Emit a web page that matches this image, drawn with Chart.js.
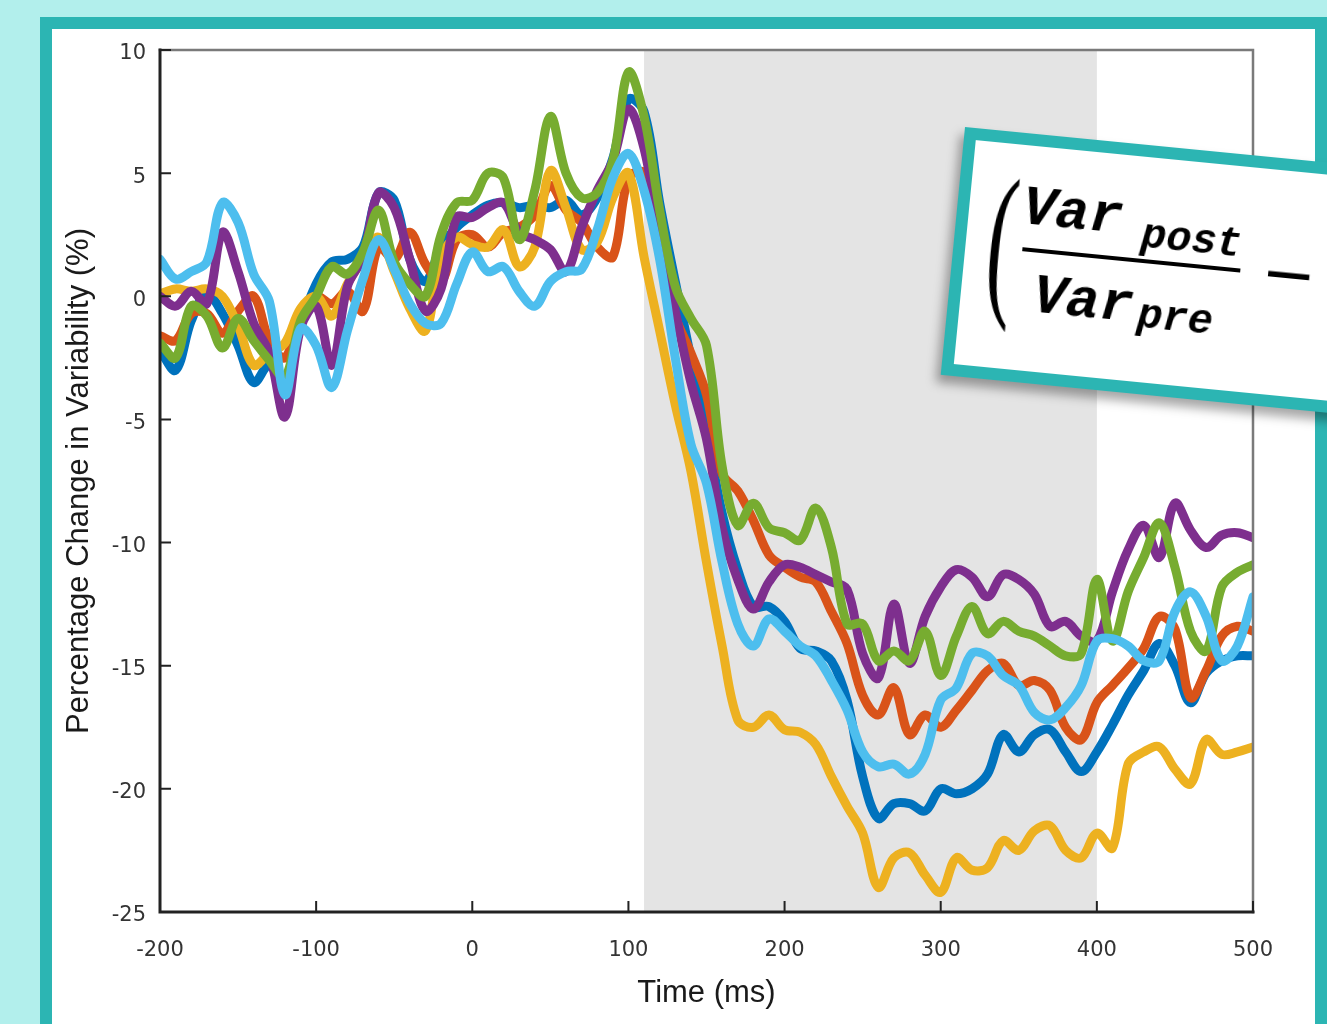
<!DOCTYPE html>
<html>
<head>
<meta charset="utf-8">
<title>Percentage Change in Variability</title>
<script src="https://cdn.jsdelivr.net/npm/chart.js@4.4.1/dist/chart.umd.min.js"></script>
<style>
  html, body { margin: 0; padding: 0; }
  body { width: 1327px; height: 1024px; overflow: hidden; background: #b2efec; position: relative; }
  #frame { position: absolute; left: 40px; top: 17px; width: 1263px; height: 1100px; border: 12px solid #2cb5b3; background: #fff; }
  #wrap { position: absolute; left: 0; top: 0; width: 1327px; height: 1024px; }
  #formula { position: absolute; left: 965px; top: 127px; width: 520px; height: 225px; border: 12px solid #2cb5b3; background: #fff;
             transform-origin: 0 0; transform: rotate(5.6deg); box-shadow: -4px 8px 10px rgba(0,0,0,0.35); }
  #formula span { position: absolute; line-height: 1; color: #000; white-space: nowrap; }
  .paren { font-family: "Liberation Serif", serif; font-size: 170px; left: 22px; top: 10px; transform-origin: 0 0; transform: scaleX(0.5); }
  .big { font-family: "Liberation Mono", monospace; font-style: italic; font-weight: bold; font-size: 56px; }
  .sub { font-family: "Liberation Mono", monospace; font-style: italic; font-weight: bold; font-size: 42px; }
  .bar { position: absolute; left: 57px; top: 102px; width: 219px; height: 4px; background: #000; }
  .minus { font-family: "DejaVu Sans", sans-serif; font-size: 66px; }
</style>
</head>
<body>
<div id="frame"></div>
<div id="wrap"><canvas id="chart" width="1327" height="1024"></canvas></div>
<div id="formula">
  <span class="paren">(</span>
  <span class="big" style="left:53px; top:35px;">Var</span>
  <span class="sub" style="left:174px; top:58px;">post</span>
  <div class="bar"></div>
  <span class="minus" style="left:297px; top:70px;">−</span>
  <span class="big" style="left:72px; top:122px;">Var</span>
  <span class="sub" style="left:178px; top:138px;">pre</span>
</div>
<script>
// time axis (ms), one sample every 10 ms
const times = [
  -200, -190, -180, -170, -160, -150, -140, -130, -120, -110,
  -100, -90, -80, -70, -60, -50, -40, -30, -20, -10,
  0, 10, 20, 30, 40, 50, 60, 70, 80, 90,
  100, 110, 120, 130, 140, 150, 160, 170, 180, 190,
  200, 210, 220, 230, 240, 250, 260, 270, 280, 290,
  300, 310, 320, 330, 340, 350, 360, 370, 380, 390,
  400, 410, 420, 430, 440, 450, 460, 470, 480, 490,
  500
];

const blue = [
  -2.2, -3.0, -1.0, 0.1, -0.7, -2.0, -3.5, -2.8, -3.8, -1.2,
  0.5, 1.4, 1.5, 2.0, 4.2, 3.9, 1.5, 0.6, 2.0, 2.8,
  3.3, 3.7, 3.8, 3.6, 3.7, 3.6, 3.9, 3.3, 4.0, 5.6,
  8.0, 7.5, 3.8, 0.6, -2.5, -5.5, -8.8, -11.1, -12.6, -12.6,
  -13.2, -14.3, -14.4, -14.8, -16.4, -19.5, -21.2, -20.6, -20.6, -20.9,
  -20.0, -20.2, -20.0, -19.4, -17.8, -18.5, -17.8, -17.6, -18.5, -19.3,
  -18.5, -17.4, -16.2, -15.2, -14.1, -15.0, -16.5, -15.3, -14.8, -14.6,
  -14.6
];

const orange = [
  -1.6, -1.8, -0.7, -0.7, -1.5, -0.6, 0.0, -1.8, -2.5, -0.8,
  0.0, -0.3, 0.2, -0.6, 2.0, 1.5, 2.6, 1.3, 0.6, 2.3,
  2.5, 2.0, 2.6, 2.8, 3.3, 4.5, 3.5, 3.0, 2.0, 1.6,
  4.8, 5.0, 2.0, -0.8, -2.3, -4.0, -7.2, -7.9, -9.1, -10.5,
  -11.0, -11.4, -11.6, -12.8, -14.1, -16.2, -17.0, -15.9, -17.8, -17.0,
  -17.5, -16.8, -16.0, -15.2, -14.9, -15.8, -15.6, -16.0, -17.5, -18.0,
  -16.5, -15.8, -15.1, -14.3, -13.0, -13.5, -16.3, -15.2, -13.8, -13.4,
  -13.6
];

const yellow = [
  0.1, 0.3, 0.2, 0.3, 0.0, -1.2, -2.8, -2.3, -1.9, -0.5,
  0.0, -0.8, 0.5, 1.5, 2.4, 1.0, -0.5, -1.4, 1.6, 2.4,
  2.1, 2.0, 2.7, 1.2, 2.0, 5.1, 3.6, 1.9, 2.2, 4.0,
  5.0, 1.6, -1.4, -4.4, -7.1, -10.8, -14.2, -17.2, -17.5, -17.0,
  -17.6, -17.7, -18.2, -19.5, -20.7, -21.8, -24.0, -22.8, -22.6, -23.5,
  -24.2, -22.8, -23.3, -23.2, -22.1, -22.5, -21.7, -21.5, -22.5, -22.8,
  -21.8, -22.4, -19.0, -18.5, -18.3, -19.2, -19.8, -18.0, -18.6, -18.5,
  -18.3
];

const purple = [
  0.0, -0.4, 0.2, -0.3, 2.6, 1.0, -1.1, -2.3, -4.9, -1.3,
  -0.4, -2.8, 0.4, 1.6, 4.2, 3.6, 1.5, -0.6, 0.3, 3.2,
  3.2, 3.6, 3.8, 2.6, 2.3, 1.9, 1.0, 2.8, 4.3, 5.5,
  7.6, 6.0, 2.5, -0.6, -3.5, -5.8, -9.4, -11.5, -12.7, -11.6,
  -10.9, -11.0, -11.3, -11.6, -11.9, -14.5, -15.5, -12.5, -14.9, -13.0,
  -11.8, -11.1, -11.4, -12.2, -11.3, -11.5, -12.1, -13.4, -13.2, -13.8,
  -14.0, -12.0, -10.3, -9.3, -10.6, -8.4, -9.5, -10.2, -9.7, -9.6,
  -9.8
];

const green = [
  -1.9, -2.5, -0.4, -0.8, -2.1, -0.9, -1.8, -2.6, -3.3, -1.0,
  0.0, 1.2, 0.9, 1.8, 3.5, 1.4, 0.5, 0.0, 2.5, 3.8,
  3.9, 5.0, 4.8, 2.3, 4.3, 7.3, 5.0, 4.0, 4.2, 5.5,
  9.1, 7.3, 3.5, 0.4, -0.9, -2.0, -6.9, -9.3, -8.4, -9.4,
  -9.6, -9.9, -8.6, -10.2, -13.3, -13.3, -14.8, -14.4, -14.8, -13.6,
  -15.4, -13.8, -12.6, -13.7, -13.2, -13.6, -13.8, -14.2, -14.6, -14.5,
  -11.5, -14.0, -12.0, -10.6, -9.2, -11.0, -13.6, -14.4, -11.8, -11.2,
  -10.9
];

const lightBlue = [
  1.5, 0.7, 1.0, 1.4, 3.8, 3.0, 0.9, -0.2, -4.0, -1.3,
  -2.0, -3.7, -1.4, 0.7, 2.3, 1.1, -0.3, -1.1, -1.1, 0.5,
  1.8, 1.0, 1.2, 0.2, -0.4, 0.6, 1.0, 1.1, 2.7, 4.8,
  5.8, 4.3, 1.5, -2.5, -6.0, -7.6, -10.8, -13.3, -14.2, -13.1,
  -13.6, -14.2, -14.6, -15.6, -16.8, -18.5, -19.1, -19.0, -19.4, -18.6,
  -16.4, -15.9, -14.5, -14.6, -15.4, -15.8, -16.9, -17.2, -16.7, -15.8,
  -14.0, -13.9, -14.2, -14.8, -14.8, -12.8, -12.0, -13.0, -14.8, -14.2,
  -12.2
];

// shaded analysis window (ms)
const shadeFrom = 110;
const shadeTo = 400;

const series = [
  { name: 'Blue', values: blue, color: '#0072BD' },
  { name: 'Orange', values: orange, color: '#D95319' },
  { name: 'Yellow', values: yellow, color: '#EDB120' },
  { name: 'Purple', values: purple, color: '#7E2F8E' },
  { name: 'Green', values: green, color: '#77AC30' },
  { name: 'Light blue', values: lightBlue, color: '#4DBEEE' }
];

const datasets = series.map((s, i) => ({
  label: s.name,
  data: times.map((t, k) => ({ x: t, y: s.values[k] })),
  borderColor: s.color,
  backgroundColor: s.color,
  order: series.length - i   // later series sit on top, like the original plot
}));

// grey band behind the lines
const shadePlugin = {
  id: 'shade',
  beforeDatasetsDraw(chart) {
    const { ctx, chartArea, scales } = chart;
    const x0 = scales.x.getPixelForValue(shadeFrom);
    const x1 = scales.x.getPixelForValue(shadeTo);
    ctx.save();
    ctx.fillStyle = '#e4e4e4';
    ctx.fillRect(x0, chartArea.top, x1 - x0, chartArea.bottom - chartArea.top);
    ctx.restore();
  }
};

// box around the plot with inward tick marks
const boxPlugin = {
  id: 'box',
  afterDatasetsDraw(chart) {
    const { ctx, chartArea: a, scales } = chart;
    ctx.save();
    ctx.lineCap = 'square';
    ctx.strokeStyle = '#7a7a7a';
    ctx.lineWidth = 2.5;
    ctx.beginPath();
    ctx.moveTo(a.left, a.top); ctx.lineTo(a.right, a.top); ctx.lineTo(a.right, a.bottom);
    ctx.stroke();
    ctx.strokeStyle = '#222';
    ctx.lineWidth = 3;
    ctx.beginPath();
    ctx.moveTo(a.left, a.top); ctx.lineTo(a.left, a.bottom); ctx.lineTo(a.right, a.bottom);
    ctx.stroke();
    ctx.lineWidth = 2;
    ctx.beginPath();
    scales.x.ticks.forEach(t => {
      const px = scales.x.getPixelForValue(t.value);
      ctx.moveTo(px, a.bottom); ctx.lineTo(px, a.bottom - 10);
    });
    scales.y.ticks.forEach(t => {
      const py = scales.y.getPixelForValue(t.value);
      ctx.moveTo(a.left, py); ctx.lineTo(a.left + 10, py);
    });
    ctx.stroke();
    ctx.restore();
  }
};

new Chart(document.getElementById('chart'), {
  type: 'line',
  data: { datasets },
  plugins: [shadePlugin, boxPlugin],
  options: {
    responsive: false,
    animation: false,
    layout: { padding: { left: 0, right: 74, top: 50, bottom: 0 } },
    plugins: { legend: { display: false }, tooltip: { enabled: false } },
    elements: {
      point: { radius: 0 },
      line: { borderWidth: 9, tension: 0.35, borderCapStyle: 'round', borderJoinStyle: 'round' }
    },
    scales: {
      x: {
        type: 'linear', min: -200, max: 500,
        grid: { display: false, drawTicks: false },
        border: { display: false },
        ticks: { stepSize: 100, color: '#333', font: { family: 'DejaVu Sans', size: 21 }, padding: 26, maxRotation: 0 },
        title: { display: true, text: 'Time (ms)', color: '#1a1a1a', font: { family: 'Liberation Sans', size: 31 }, padding: { top: 0, bottom: 12 } },
        afterFit(scale) { scale.height = 112; }
      },
      y: {
        min: -25, max: 10,
        grid: { display: false, drawTicks: false },
        border: { display: false },
        ticks: { stepSize: 5, color: '#333', font: { family: 'DejaVu Sans', size: 21 }, padding: 14, labelOffset: 4 },
        title: { display: true, text: 'Percentage Change in Variability (%)', color: '#1a1a1a', font: { family: 'Liberation Sans', size: 31 }, padding: { top: 61, bottom: 0 } },
        afterFit(scale) { scale.width = 160; }
      }
    }
  }
});
</script>
</body>
</html>
